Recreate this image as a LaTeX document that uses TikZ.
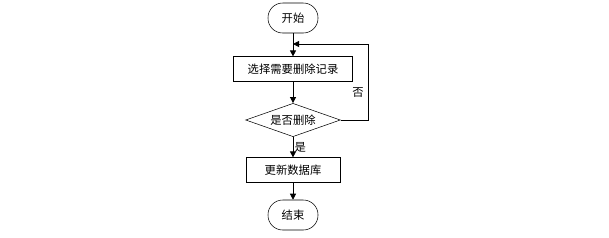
\documentclass[tikz,border=0pt]{standalone}
\usepackage{fontspec}
\setmainfont{Noto Sans CJK SC}
\usetikzlibrary{shapes.geometric, arrows.meta}

\begin{document}
\begin{tikzpicture}[x=0.75pt, y=-0.75pt,
    font=\fontsize{8.5}{10}\selectfont,
    terminal/.style={draw, rounded corners=11pt, minimum width=37.5pt, minimum height=22.5pt},
    process/.style={draw, minimum height=18.5pt, inner sep=1pt},
    decision/.style={draw, diamond, aspect=2.9, minimum width=71pt, minimum height=25pt, inner sep=0pt},
    flow/.style={-{Triangle[length=4.5pt, width=4.5pt]}, line width=0.6pt}]
    % Bounding box
    \useasboundingbox (0,0) rectangle (609,237);

    % Nodes
    \node[terminal] (start) at (293,18) {开始};
    \node[process, minimum width=89pt] (select) at (293,69) {选择需要删除记录};
    \node[decision] (dec) at (293,120) {是否删除};
    \node[process, minimum width=70.5pt] (update) at (293,170) {更新数据库};
    \node[terminal] (stop) at (293,215) {结束};

    % Loop points
    \coordinate (loopin) at (293,44);
    \coordinate (loopr) at (368,120);

    % Connectors
    \draw[flow] (start) -- (select);
    \draw[flow] (select) -- (dec);
    \draw[flow] (dec) -- (update) node[pos=0.5, right, inner sep=1pt] {是};
    \draw[flow] (update) -- (stop);
    \draw[flow] (dec.east) -- (loopr) |- (loopin);

    % Labels
    \node (no) at (358,93) {否};
\end{tikzpicture}
\end{document}
